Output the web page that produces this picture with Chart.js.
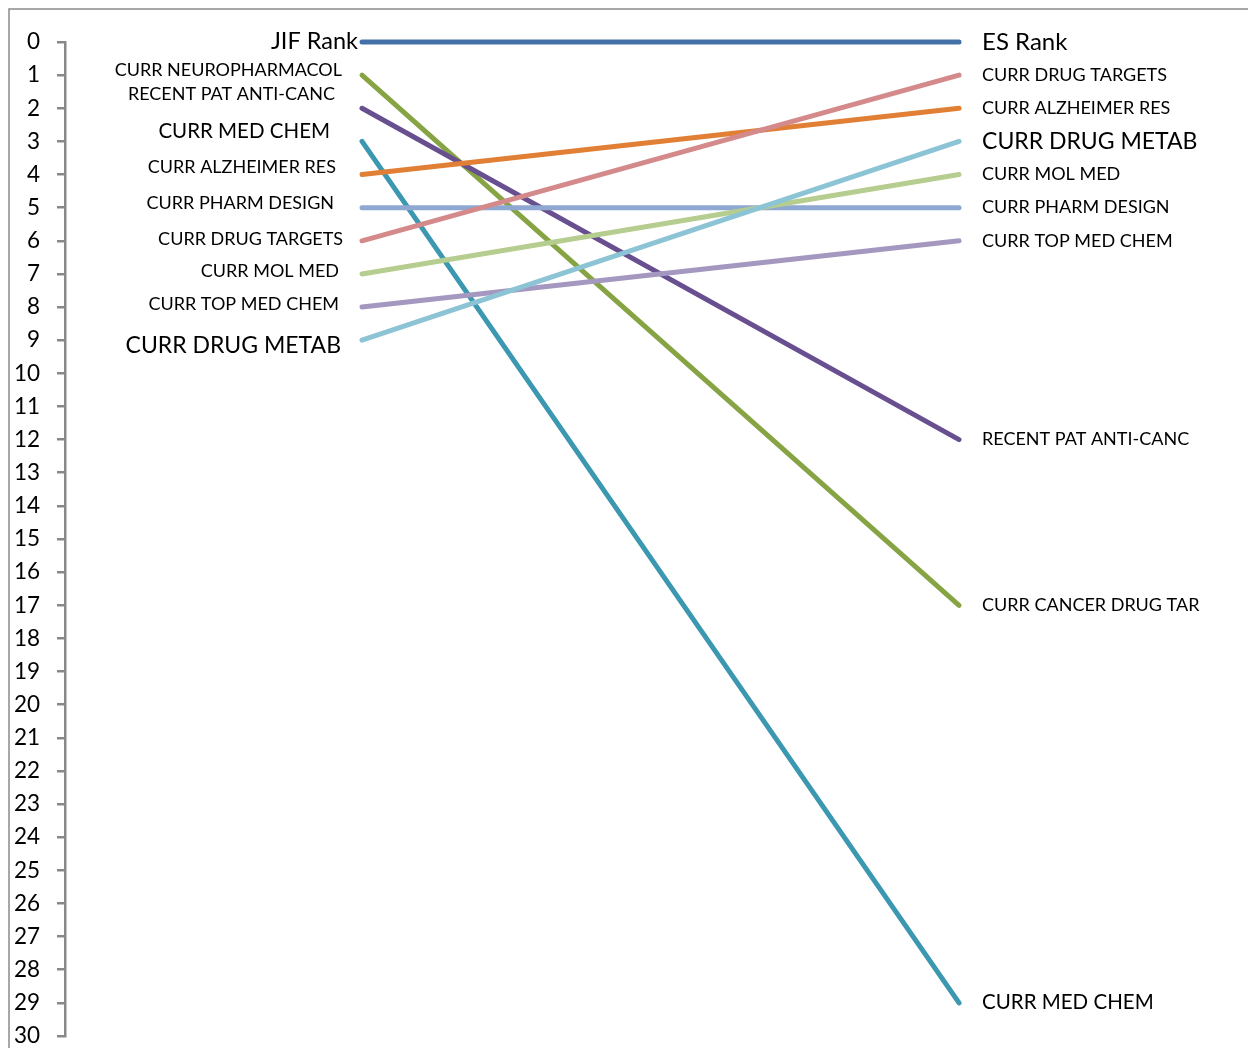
<!DOCTYPE html>
<html>
<head>
<meta charset="utf-8">
<title>JIF Rank vs ES Rank</title>
<script src="https://cdn.jsdelivr.net/npm/chart.js@4.4.1/dist/chart.umd.min.js"></script>
<style>
    html, body { margin: 0; padding: 0; background: #ffffff; }
    #wrap { width: 1248px; height: 1048px; overflow: hidden; }
</style>
</head>
<body>
<div id="wrap"><canvas id="rankChart" width="1248" height="1048"></canvas></div>
<script>
// Journal ranks (left = JIF rank, right = ES rank)
const leftNames = ['JIF Rank', 'CURR NEUROPHARMACOL', 'RECENT PAT ANTI-CANC', 'CURR MED CHEM', 'CURR ALZHEIMER RES',
    'CURR PHARM DESIGN', 'CURR DRUG TARGETS', 'CURR MOL MED', 'CURR TOP MED CHEM', 'CURR DRUG METAB'];
const rightNames = ['ES Rank', 'CURR CANCER DRUG TAR', 'RECENT PAT ANTI-CANC', 'CURR MED CHEM', 'CURR ALZHEIMER RES',
    'CURR PHARM DESIGN', 'CURR DRUG TARGETS', 'CURR MOL MED', 'CURR TOP MED CHEM', 'CURR DRUG METAB'];
const jifRank = [0, 1, 2, 3, 4, 5, 6, 7, 8, 9];
const esRank = [0, 17, 12, 29, 2, 5, 1, 4, 6, 3];
const rankTicks = [0, 30];

// styling
const lineColors = ['#4470a8', '#86a444', '#684f8f', '#3b98b0', '#e17f35',
    '#8ea8d2', '#d48a8a', '#b5cd8f', '#a497c0', '#8cc4d5'];
// font size, gap from line end, vertical shift
const leftLabelStyle = [
    [23.5, 4, -1], [18, 20, -5], [18, 27, -14], [20.5, 32, -10], [18, 26, -7],
    [18, 28, -4], [18, 19, -2], [18, 23, -3], [18, 23, -3], [23, 21, 5]
];
const rightLabelSize = [24, 18, 18, 20.5, 18, 18, 18, 18, 18, 23];
const fontFamily = 'Lato, "Open Sans", sans-serif';

const frame = {
    id: 'frame',
    beforeDraw(chart) {
        const ctx = chart.ctx;
        ctx.save();
        ctx.fillStyle = '#ffffff';
        ctx.fillRect(0, 0, chart.width, chart.height);
        ctx.strokeStyle = '#8a8a8a';
        ctx.lineWidth = 1.5;
        ctx.strokeRect(9, 9, chart.width, chart.height);
        ctx.restore();
    }
};

const endLabels = {
    id: 'endLabels',
    afterDatasetsDraw(chart) {
        const ctx = chart.ctx;
        ctx.save();
        ctx.fillStyle = '#000000';
        ctx.textBaseline = 'middle';
        chart.data.datasets.forEach((ds, i) => {
            const pts = chart.getDatasetMeta(i).data;
            const st = leftLabelStyle[i];
            ctx.font = st[0] + 'px ' + fontFamily;
            ctx.textAlign = 'right';
            ctx.fillText(leftNames[i], pts[0].x - st[1], pts[0].y + st[2]);
            ctx.font = rightLabelSize[i] + 'px ' + fontFamily;
            ctx.textAlign = 'left';
            ctx.fillText(rightNames[i], pts[1].x + 23, pts[1].y);
        });
        ctx.restore();
    }
};

new Chart(document.getElementById('rankChart').getContext('2d'), {
    type: 'line',
    data: {
        datasets: jifRank.map((v, i) => ({
            label: leftNames[i],
            data: [{ x: 0, y: v }, { x: 1, y: esRank[i] }],
            borderColor: lineColors[i],
            borderWidth: 5,
            borderCapStyle: 'round',
            pointRadius: 0,
            fill: false,
            clip: false,
            order: -i
        }))
    },
    options: {
        responsive: false,
        animation: false,
        devicePixelRatio: 1,
        layout: { padding: { top: 42, bottom: 12, left: 0, right: 0 } },
        plugins: {
            legend: { display: false },
            tooltip: { enabled: false }
        },
        scales: {
            x: {
                type: 'linear',
                display: false,
                min: -0.4975,
                max: 1.484
            },
            y: {
                type: 'linear',
                reverse: true,
                min: rankTicks[0],
                max: rankTicks[1],
                afterFit(scale) {
                    scale.width = 65;
                    scale.paddingTop = 0;
                    scale.paddingBottom = 0;
                },
                border: { display: true, color: '#888888', width: 2.5 },
                grid: {
                    drawOnChartArea: false,
                    drawTicks: true,
                    tickLength: 8,
                    color: '#888888',
                    lineWidth: 2.5
                },
                ticks: {
                    stepSize: 1,
                    autoSkip: false,
                    padding: 17,
                    color: '#000000',
                    font: { family: fontFamily, size: 22.5, lineHeight: 1 }
                }
            }
        }
    },
    plugins: [frame, endLabels]
});
</script>
</body>
</html>
